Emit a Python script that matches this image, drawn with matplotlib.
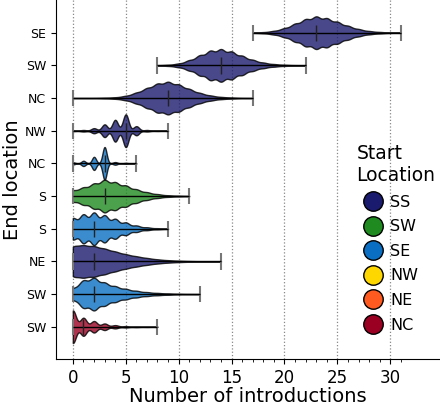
import numpy as np
import matplotlib.pyplot as plt
from matplotlib.lines import Line2D

# end locations, top row first
end_locs = ["SE", "SW", "NC", "NW", "NC", "S", "S", "NE", "SW", "SW"]
start_locs = ["SS", "SS", "SS", "SS", "SE", "SW", "SE", "SS", "SE", "NC"]

# frequency of each number of introductions (first entry = lowest value)
lows = [17, 8, 0, 0, 0, 0, 0, 0, 0, 0]
counts = [
    [1, 3, 10, 25, 50, 75, 90, 80, 60, 38, 20, 9, 4, 1, 1],
    [1, 3, 10, 28, 55, 80, 88, 75, 52, 30, 15, 7, 3, 1, 1],
    [1, 1, 1, 2, 4, 12, 30, 55, 80, 90, 75, 50, 28, 14, 6, 3, 1, 1],
    [2, 4, 14, 35, 60, 90, 25, 4, 1, 1],
    [5, 12, 30, 75, 6, 2, 1],
    [30, 45, 65, 85, 72, 55, 35, 20, 10, 4, 2, 1],
    [60, 80, 90, 75, 55, 35, 18, 8, 3, 1],
    [95, 95, 90, 75, 58, 42, 30, 20, 12, 7, 4, 2, 1, 1, 1],
    [35, 85, 100, 70, 48, 32, 20, 12, 7, 4, 2, 1, 1],
    [100, 55, 35, 20, 10, 4, 2, 1, 1],
]

legend_names = ["SS", "SW", "SE", "NW", "NE", "NC"]
legend_colors = ["#1a1a6e", "#1f8a1f", "#0a6fc2", "#ffd700", "#ff5a1f", "#990022"]
colors = dict(zip(legend_names, legend_colors))

fig = plt.figure(figsize=(4.4, 4.09), dpi=100)
ax = fig.add_axes([0.127, 0.122, 0.873, 0.878])

for i in range(len(end_locs)):
    vals = np.arange(lows[i], lows[i] + len(counts[i]))
    data = np.repeat(vals, counts[i])
    parts = ax.violinplot([data], positions=[i], orientation="horizontal",
                          widths=1.0, showmedians=True, bw_method=0.2,
                          points=500)
    for body in parts["bodies"]:
        body.set_facecolor(colors[start_locs[i]])
        body.set_edgecolor("black")
        body.set_linewidth(1.0)
        body.set_alpha(0.8)
    parts["cbars"].set_color("black")
    parts["cbars"].set_linewidth(1.0)
    parts["cmins"].set_color("#777777")
    parts["cmaxes"].set_color("#777777")
    parts["cmedians"].set_color("#222222")
    parts["cmedians"].set_linewidth(1.0)

ax.set_ylim(9.99, -1.0)
ax.set_yticks(range(len(end_locs)))
ax.set_yticklabels(end_locs, fontsize=9)
ax.set_xlim(-1.6, 34.7)
ax.set_xticks(range(0, 31, 5))
ax.set_xticks(range(0, 32), minor=True)
ax.tick_params(axis="x", labelsize=12)
ax.grid(axis="x", linestyle=":", color="#888888", linewidth=0.9)
ax.set_axisbelow(True)
for s in ["top", "right"]:
    ax.spines[s].set_visible(False)

ax.set_xlabel("Number of introductions", fontsize=14, labelpad=0)
ax.set_ylabel("End location", fontsize=14)
ax.yaxis.set_label_coords(-0.088, 0.5)

handles = [Line2D([], [], marker="o", linestyle="none", markersize=14,
                  markerfacecolor=c, markeredgecolor="black",
                  markeredgewidth=1.0) for c in legend_colors]
fig.legend(handles, legend_names, title="Start\nLocation", loc="upper left",
           bbox_to_anchor=(0.785, 0.675), frameon=False, fontsize=11.5,
           title_fontsize=13.5, alignment="left", handletextpad=0.1,
           labelspacing=0.6, borderpad=0.2)

fig.savefig("out.png", dpi=100)
